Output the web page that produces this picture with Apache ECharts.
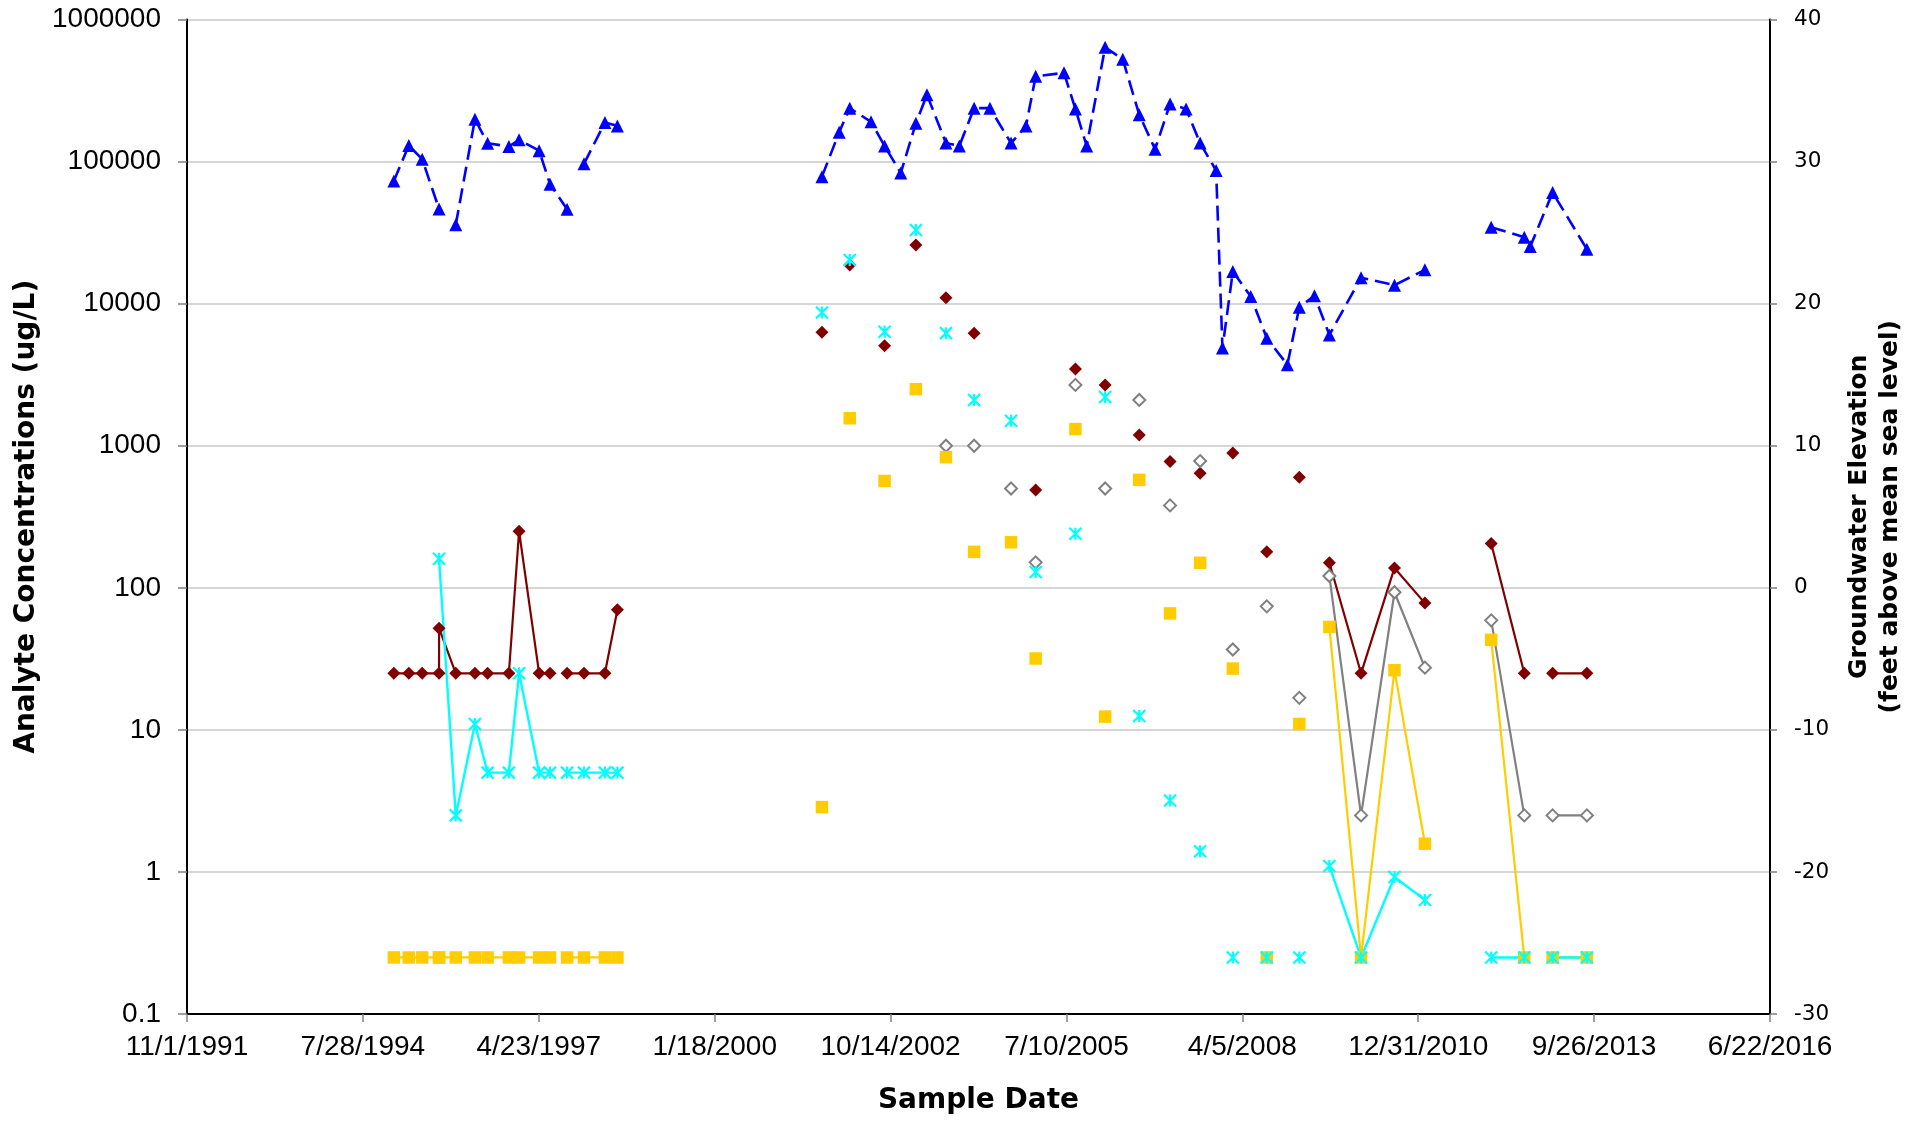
<!DOCTYPE html>
<html>
<head>
<meta charset="utf-8">
<script src="https://cdn.jsdelivr.net/npm/echarts@6/dist/echarts.min.js"></script>
<style>
html,body{margin:0;padding:0;background:#fff;}
#chart{width:1923px;height:1125px;}
</style>
</head>
<body>
<div id="chart"></div>
<script>
// ---- data (one row per sample record; null = blank cell) ----
const sampleDates = [
  '1995-01-20','1995-04-15','1995-06-30','1995-10-04','1995-10-04','1996-01-07','1996-04-25','1996-07-06',
  '1996-11-04','1997-01-01','1997-04-25','1997-06-26','1997-10-01','1997-10-01','1998-01-05','1998-05-04',
  '1998-07-14','2000-01-18',
  '2001-09-19','2001-12-26','2002-02-24','2002-06-25','2002-09-10','2002-12-11','2003-03-07','2003-05-09',
  '2003-08-25','2003-11-09','2004-02-01','2004-05-01','2004-08-29','2004-11-22','2005-01-16','2005-06-26',
  '2005-08-30','2005-11-02','2006-02-15','2006-05-26','2006-08-28','2006-11-26','2007-02-19','2007-05-21',
  '2007-08-09','2007-11-08','2007-12-14','2008-02-11','2008-05-23','2008-08-22','2008-12-17','2009-02-23',
  '2009-05-20','2009-08-13','2010-02-09','2010-08-18','2011-02-07','2011-08-01',
  '2012-02-19','2012-08-25','2012-09-28','2013-02-02','2013-08-16'
];
const groundwaterElevation = [
  28.64,31.13,30.17,26.67,null,25.55,32.98,31.29,
  31.06,31.53,30.77,28.41,26.65,null,29.84,32.75,
  32.51,null,
  28.94,32.07,33.76,32.8,31.1,29.2,32.7,34.7,
  31.3,31.1,33.76,33.76,31.3,32.5,36.0,36.25,
  33.7,31.1,38.05,37.2,33.3,30.87,34.06,33.7,
  31.3,29.37,16.87,22.26,20.5,17.57,15.7,19.75,
  20.55,17.8,21.83,21.3,22.38,null,
  25.38,24.68,24.02,27.82,23.83
];
const analyteMaroon = [
  25,25,25,25,52,25,25,25,
  25,250,25,25,null,25,25,25,
  70,null,
  6300,null,18700,null,5060,null,25900,null,
  11000,null,6200,null,null,null,488,null,
  3470,null,2680,null,1190,null,775,null,
  641,null,null,890,null,179,null,600,
  null,150,25,138,78,null,
  205,25,null,25,25
];
const analyteGray = [
  null,null,null,null,null,null,null,null,
  null,null,null,null,null,null,null,null,
  null,null,
  null,null,null,null,null,null,null,null,
  1000,null,1000,null,500,null,151,null,
  2680,null,500,null,2100,null,380,null,
  780,null,null,36.8,null,74,null,16.8,
  null,121,2.5,93,27.4,null,
  59,2.5,null,2.5,2.5
];
const analyteCyan = [
  null,null,null,null,160,2.5,11,5,
  5,25,5,5,null,5,5,5,
  5,null,
  8650,null,20300,null,6340,null,33000,null,
  6200,null,2100,null,1500,null,129,null,
  240,null,2200,null,12.5,null,3.18,null,
  1.4,null,null,0.25,null,0.25,null,0.25,
  null,1.1,0.25,0.92,0.634,null,
  0.25,0.25,null,0.25,0.25
];
const analyteYellow = [
  0.25,0.25,0.25,0.25,0.25,0.25,0.25,0.25,
  0.25,0.25,0.25,0.25,null,0.25,0.25,0.25,
  0.25,null,
  2.86,null,1560,null,565,null,2500,null,
  830,null,179,null,209,null,31.8,null,
  1310,null,12.4,null,575,null,66,null,
  150,null,null,27,null,0.25,null,11,
  null,53,0.25,26.3,1.58,null,
  43,0.25,null,0.25,0.25
];
const concTickLabels = ['0.1','1','10','100','1000','10000','100000','1000000'];
const axisStartDate = '1991-11-01';
const axisSpanDays = 9000;
const axisStepDays = 1000;

// ---- helpers ----
function utc(s){const p=s.split('-').map(Number);return Date.UTC(p[0],p[1]-1,p[2]);}
const BASE = utc(axisStartDate);
function dayOf(s){return (utc(s)-BASE)/864e5;}
function dateLabel(v){const d=new Date(BASE+Math.round(v)*864e5);return (d.getUTCMonth()+1)+'/'+d.getUTCDate()+'/'+d.getUTCFullYear();}
function pairs(vals){return sampleDates.map((s,i)=>[dayOf(s), vals[i]==null?null:vals[i]]);}

const asterisk = 'path://M0,0L12,12M12,0L0,12M6,0L6,12';
const tickStyle = {color:'#808080', width:1.5};

const chart = echarts.init(document.getElementById('chart'), null, {renderer:'canvas'});
chart.setOption({
  animation:false,
  backgroundColor:'#ffffff',
  grid:{left:187, right:153, top:19.5, bottom:111, containLabel:false},
  xAxis:{
    type:'value', min:0, max:axisSpanDays, interval:axisStepDays,
    axisLine:{show:true, onZero:false, lineStyle:{color:'#000', width:2}},
    axisTick:{show:true, length:8, lineStyle:tickStyle},
    axisLabel:{formatter:dateLabel, fontFamily:'Liberation Sans, Arial, sans-serif', fontSize:28, color:'#000', margin:19},
    splitLine:{show:false},
    name:'Sample Date', nameLocation:'middle', nameGap:73,
    nameTextStyle:{fontFamily:'DejaVu Sans, Verdana, sans-serif', fontWeight:'bold', fontSize:28, color:'#000'}
  },
  yAxis:[
    {
      type:'log', logBase:10, min:0.1, max:1000000, position:'left',
      axisLine:{show:true, onZero:false, lineStyle:{color:'#000', width:2}},
      axisTick:{show:true, length:8, lineStyle:tickStyle},
      axisLabel:{formatter:v=>concTickLabels[Math.round(Math.log10(v))+1], fontFamily:'Liberation Sans, Arial, sans-serif', fontSize:28, color:'#000', margin:26},
      splitLine:{show:true, lineStyle:{color:'#C8C8C8', width:1.5}},
      name:'Analyte Concentrations (ug/L)', nameLocation:'middle', nameRotate:90, nameGap:146,
      nameTextStyle:{fontFamily:'DejaVu Sans, Verdana, sans-serif', fontWeight:'bold', fontSize:28, color:'#000'}
    },
    {
      type:'value', min:-30, max:40, interval:10, position:'right',
      axisLine:{show:true, onZero:false, lineStyle:{color:'#000', width:2}},
      axisTick:{show:true, length:7, lineStyle:tickStyle},
      axisLabel:{fontFamily:'DejaVu Sans, Verdana, sans-serif', fontSize:21.5, color:'#000', margin:24},
      splitLine:{show:false},
      name:'Groundwater Elevation\n(feet above mean sea level)', nameLocation:'middle', nameRotate:90, nameGap:74,
      nameTextStyle:{fontFamily:'DejaVu Sans, Verdana, sans-serif', fontWeight:'bold', fontSize:25, lineHeight:31, color:'#000', align:'center'}
    },
    {
      type:'value', min:-30, max:40, interval:10, position:'right',
      axisLine:{show:false}, axisLabel:{show:false}, splitLine:{show:false},
      axisTick:{show:true, inside:true, length:9, lineStyle:tickStyle}
    }
  ],
  series:[
    {
      name:'Maroon analyte', type:'line', yAxisIndex:0, data:pairs(analyteMaroon),
      symbol:'diamond', symbolSize:13, showAllSymbol:true, connectNulls:false,
      itemStyle:{color:'#800000'}, lineStyle:{color:'#800000', width:2.2}
    },
    {
      name:'Gray analyte', type:'line', yAxisIndex:0, data:pairs(analyteGray),
      symbol:'diamond', symbolSize:12, showAllSymbol:true, connectNulls:false,
      itemStyle:{color:'#ffffff', borderColor:'#808080', borderWidth:2}, lineStyle:{color:'#808080', width:2.2}
    },
    {
      name:'Yellow analyte', type:'line', yAxisIndex:0, data:pairs(analyteYellow),
      symbol:'rect', symbolSize:12.5, showAllSymbol:true, connectNulls:false,
      itemStyle:{color:'#FFCC00'}, lineStyle:{color:'#FFCC00', width:2.2}
    },
    {
      name:'Cyan analyte', type:'line', yAxisIndex:0, data:pairs(analyteCyan),
      symbol:asterisk, symbolSize:12, showAllSymbol:true, connectNulls:false,
      itemStyle:{color:'#00FFFF', borderColor:'#00FFFF', borderWidth:2.2}, lineStyle:{color:'#00FFFF', width:2.4}
    },
    {
      name:'Groundwater Elevation', type:'line', yAxisIndex:1, data:pairs(groundwaterElevation),
      symbol:'triangle', symbolSize:13, showAllSymbol:true, connectNulls:false,
      itemStyle:{color:'#0000FF'}, lineStyle:{color:'#0000FF', width:2.6, type:[15,7]}
    }
  ]
});
</script>
</body>
</html>
